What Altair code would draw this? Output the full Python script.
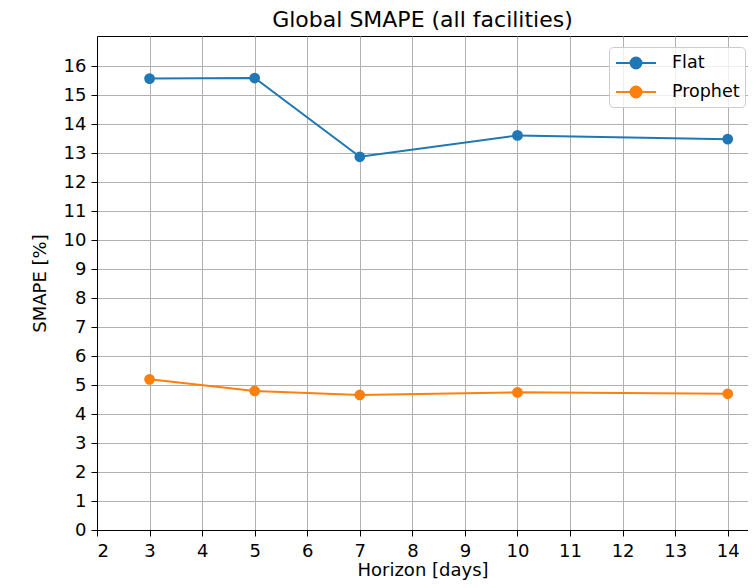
import altair as alt
import pandas as pd

horizons = [3, 5, 7, 10, 14]
flat = [15.58, 15.60, 12.88, 13.62, 13.49]
prophet = [5.20, 4.80, 4.66, 4.75, 4.70]
series_names = ["Flat", "Prophet"]
series_colors = ["#1f77b4", "#ff7f0e"]
x_ticks = list(range(2, 15))
y_ticks = list(range(0, 17))

rows = []
for h, v in zip(horizons, flat):
    rows.append({"Horizon": h, "SMAPE": v, "Series": "Flat"})
for h, v in zip(horizons, prophet):
    rows.append({"Horizon": h, "SMAPE": v, "Series": "Prophet"})
df = pd.DataFrame(rows)

FONT = "DejaVu Sans"
legend_symbol = "M-2,0L2,0M-0.55,0A0.55,0.55,0,1,1,0.55,0A0.55,0.55,0,1,1,-0.55,0Z"

x_enc = alt.X("Horizon:Q",
              scale=alt.Scale(domain=[2, 14.386], nice=False, zero=False),
              axis=alt.Axis(values=x_ticks, title="Horizon [days]", format="d"))
y_enc = alt.Y("SMAPE:Q",
              scale=alt.Scale(domain=[0, 17.05], nice=False),
              axis=alt.Axis(values=y_ticks, title="SMAPE [%]", format="d"))
color_enc = alt.Color("Series:N",
                      scale=alt.Scale(domain=series_names, range=series_colors),
                      legend=alt.Legend(title=None, orient="none", legendX=512, legendY=11,
                                        symbolType=legend_symbol, symbolSize=400,
                                        symbolStrokeWidth=2, symbolOffset=11,
                                        labelOffset=25, labelFontSize=17.5, labelFont=FONT,
                                        labelColor="black",
                                        padding=5, rowPadding=8,
                                        fillColor="rgba(255,255,255,0.8)",
                                        strokeColor="#cccccc", cornerRadius=4))

base = alt.Chart(df)
lines = base.mark_line(strokeWidth=2).encode(x=x_enc, y=y_enc, color=color_enc)
points = base.mark_point(filled=True, size=115, opacity=1).encode(x=x_enc, y=y_enc, color=color_enc)

chart = alt.layer(lines, points).properties(
    width=651, height=494,
    title=alt.Title("Global SMAPE (all facilities)", font=FONT, fontSize=22,
                    fontWeight="normal", color="black", anchor="middle", offset=4),
    autosize=alt.AutoSizeParams(type="none"),
    padding={"left": 89, "top": 28, "right": 0, "bottom": 50},
).configure_view(stroke="black", strokeWidth=1).configure_axis(
    labelFont=FONT, labelFontSize=18, labelColor="black",
    titleFont=FONT, titleFontSize=18, titleFontWeight="normal", titleColor="black",
    domainColor="black", domainWidth=1, tickColor="black", tickSize=6, tickWidth=1,
    labelPadding=5, grid=True, gridColor="#b0b0b0", gridWidth=1,
).configure_axisY(titlePadding=14).configure_axisX(titlePadding=1, labelPadding=6)

chart.save("out.html", embed_options={"renderer": "svg", "actions": False})
